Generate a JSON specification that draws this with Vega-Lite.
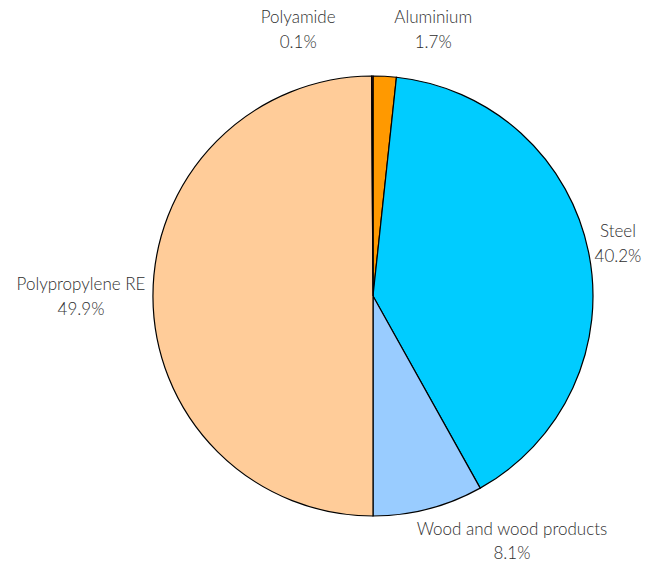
{
  "$schema": "https://vega.github.io/schema/vega-lite/v6.json",
  "width": 550,
  "height": 532,
  "autosize": "none",
  "padding": {"left": 98, "top": 30, "right": 0, "bottom": 0},
  "background": "white",
  "config": {"view": {"stroke": null}},
  "data": {
    "values": [
      {"material": "Aluminium", "share": 1.7, "rank": 1},
      {"material": "Steel", "share": 40.2, "rank": 2},
      {"material": "Wood and wood products", "share": 8.1, "rank": 3},
      {"material": "Polypropylene RE", "share": 49.9, "rank": 4},
      {"material": "Polyamide", "share": 0.1, "rank": 5}
    ]
  },
  "transform": [
    {"calculate": "datum.material + '\\n' + format(datum.share, '.1f') + '%'", "as": "label"}
  ],
  "encoding": {
    "theta": {"field": "share", "type": "quantitative", "stack": true},
    "order": {"field": "rank", "type": "quantitative", "sort": "ascending"}
  },
  "layer": [
    {
      "mark": {"type": "arc", "outerRadius": 220, "stroke": "#000000", "strokeWidth": 1.2},
      "encoding": {
        "color": {
          "field": "material",
          "type": "nominal",
          "legend": null,
          "scale": {
            "domain": ["Aluminium", "Steel", "Wood and wood products", "Polypropylene RE", "Polyamide"],
            "range": ["#FF9900", "#00CCFF", "#99CCFF", "#FFCC99", "#993366"]
          }
        }
      }
    },
    {
      "mark": {"type": "text", "radius": 266, "dx": 46, "dy": -12, "align": "center", "baseline": "middle", "lineBreak": "\n", "lineHeight": 25, "font": "Lato", "fontSize": 17, "fontWeight": 300, "fill": "#2e2e2e"},
      "encoding": {"text": {"condition": {"test": "datum.material === 'Aluminium'", "field": "label"}, "value": ""}}
    },
    {
      "mark": {"type": "text", "radius": 266, "dx": -74, "dy": -12, "align": "center", "baseline": "middle", "lineBreak": "\n", "lineHeight": 25, "font": "Lato", "fontSize": 17, "fontWeight": 300, "fill": "#2e2e2e"},
      "encoding": {"text": {"condition": {"test": "datum.material === 'Polyamide'", "field": "label"}, "value": ""}}
    },
    {
      "mark": {"type": "text", "radius": 250, "dy": -14, "align": "center", "baseline": "middle", "lineBreak": "\n", "lineHeight": 25, "font": "Lato", "fontSize": 17, "fontWeight": 300, "fill": "#2e2e2e"},
      "encoding": {"text": {"condition": {"test": "datum.material === 'Steel'", "field": "label"}, "value": ""}}
    },
    {
      "mark": {"type": "text", "radius": 250, "dx": 76, "dy": -8, "align": "center", "baseline": "middle", "lineBreak": "\n", "lineHeight": 24, "font": "Lato", "fontSize": 17, "fontWeight": 300, "fill": "#2e2e2e"},
      "encoding": {"text": {"condition": {"test": "datum.material === 'Wood and wood products'", "field": "label"}, "value": ""}}
    },
    {
      "mark": {"type": "text", "radius": 250, "dx": -42, "dy": -12, "align": "center", "baseline": "middle", "lineBreak": "\n", "lineHeight": 25, "font": "Lato", "fontSize": 17, "fontWeight": 300, "fill": "#2e2e2e"},
      "encoding": {"text": {"condition": {"test": "datum.material === 'Polypropylene RE'", "field": "label"}, "value": ""}}
    }
  ]
}
